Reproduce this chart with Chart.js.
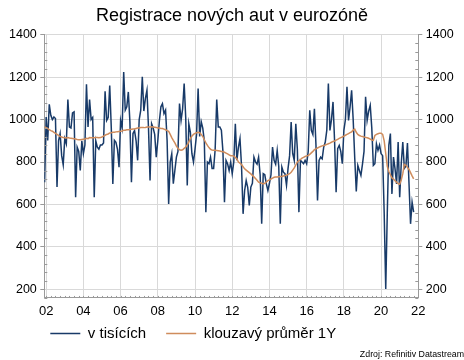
<!DOCTYPE html>
<html>
<head>
<meta charset="utf-8">
<script src="https://cdn.jsdelivr.net/npm/chart.js@4.4.1/dist/chart.umd.min.js"></script>
<style>
  html, body { margin: 0; padding: 0; background: #ffffff; }
  #wrap { width: 464px; height: 360px; }
</style>
</head>
<body>
<div id="wrap"><canvas id="c" width="464" height="360"></canvas></div>
<script>
// ---- data ----
const titleText = 'Registrace nových aut v eurozóně';
const sourceText = 'Zdroj: Refinitiv Datastream';
const seriesNames = ['v tisících', 'klouzavý průměr 1Y'];
const firstYear = 2001, firstMonth = 12;          // first observation: Dec 2001
const tickYears = [2002, 2004, 2006, 2008, 2010, 2012, 2014, 2016, 2018, 2020, 2022];
const tickLabels = ['02', '04', '06', '08', '10', '12', '14', '16', '18', '20', '22'];
const yTicks = [200, 400, 600, 800, 1000, 1200, 1400];

// monthly registrations (thousands), Dec 2001 .. Oct 2021
const registrations = [
  705,
  1012, 902, 1072, 1020, 1000, 1012, 1005, 682, 900, 934, 830, 787,
  910, 886, 1094, 965, 960, 1031, 1036, 634, 870, 850, 760, 900,
  839, 880, 1166, 965, 1094, 1000, 1010, 634, 900, 870, 860, 880,
  880, 890, 1133, 996, 1010, 1160, 960, 697, 902, 893, 860, 776,
  996, 960, 1224, 1044, 1060, 1130, 990, 705, 934, 948, 900, 808,
  1000, 1044, 1201, 1040, 1100, 1138, 960, 713, 980, 960, 930, 823,
  900, 992, 1060, 1075, 1028, 1044, 900, 603, 800, 839, 698, 760,
  823, 850, 1075, 996, 1050, 1170, 1010, 690, 980, 940, 839, 800,
  860, 930, 1146, 920, 990, 960, 900, 564, 800, 792, 823, 770,
  770, 860, 1094, 965, 965, 950, 850, 611, 808, 792, 760, 800,
  745, 800, 980, 808, 870, 910, 780, 556, 666, 713, 680, 595,
  682, 700, 823, 801, 790, 823, 740, 509, 745, 740, 697, 666,
  700, 740, 870, 808, 790, 855, 780, 509, 776, 752, 745, 690,
  770, 830, 988, 840, 808, 980, 860, 564, 808, 800, 792, 808,
  792, 850, 1044, 949, 930, 1051, 880, 619, 808, 823, 815, 870,
  894, 950, 1170, 949, 1000, 1083, 900, 658, 863, 878, 850, 792,
  949, 1000, 1154, 996, 1060, 1138, 1000, 820, 661, 784, 760, 737,
  790, 850, 1107, 996, 1040, 1067, 960, 784, 792, 886, 855, 880,
  839, 830, 560, 202, 560, 880, 934, 650, 823, 768, 697, 894,
  634, 792, 894, 770, 780, 889, 700, 509, 611, 564
];

// 12-month moving average, Dec 2001 .. Oct 2021
const movingAvg = [
  965,
  962, 958, 952, 948, 945, 940, 935, 930, 925, 920, 918, 915,
  914, 913, 915, 913, 912, 911, 910, 908, 906, 905, 905, 906,
  907, 908, 912, 910, 915, 914, 914, 914, 915, 915, 914, 915,
  918, 922, 926, 930, 932, 937, 938, 940, 940, 942, 943, 944,
  945, 946, 950, 950, 952, 952, 953, 954, 955, 956, 958, 960,
  960, 962, 962, 962, 963, 965, 965, 965, 966, 965, 964, 963,
  960, 960, 958, 958, 955, 952, 948, 945, 930, 915, 902, 890,
  875, 865, 858, 856, 858, 864, 870, 880, 895, 910, 922, 930,
  935, 938, 940, 938, 930, 920, 905, 890, 878, 868, 860, 856,
  855, 855, 854, 853, 852, 850, 848, 846, 842, 838, 834, 830,
  830, 828, 822, 815, 800, 795, 788, 778, 768, 762, 756, 750,
  744, 737, 730, 722, 714, 705, 702, 700, 697, 700, 706, 712,
  716, 720, 724, 728, 729, 730, 731, 732, 732, 734, 736, 738,
  742, 745, 752, 762, 772, 786, 800, 806, 812, 818, 822, 826,
  829, 831, 836, 843, 850, 858, 862, 866, 870, 873, 876, 878,
  880, 883, 886, 889, 893, 897, 899, 903, 907, 911, 915, 918,
  922, 926, 930, 934, 938, 942, 950, 955, 940, 930, 925, 922,
  920, 918, 916, 914, 912, 908, 904, 902, 925, 930, 933, 936,
  936, 930, 900, 840, 780, 755, 740, 725, 720, 712, 705, 698,
  695, 715, 745, 789, 785, 775, 765, 750, 735, 721
];

// ---- build points (x = decimal year of each month) ----
function monthX(i) {
  const m = firstMonth - 1 + i;
  return firstYear + m / 12;
}
const regPts = registrations.map((v, i) => ({ x: monthX(i), y: v }));
const maPts = movingAvg.map((v, i) => ({ x: monthX(i), y: v }));

const FONT = "'Liberation Sans', Arial, sans-serif";
const AXIS = '#9a9a9a';
const GRID = '#d9d9d9';
const LEGEND_PAD = 20;       // horizontal gap between legend items
const LEGEND_ROW_PAD = 8;    // vertical padding used for legend box height

const minorTicks = {
  id: 'minorTicks',
  afterDraw(chart) {
    const ctx = chart.ctx, a = chart.chartArea;
    const y = chart.scales.y, x = chart.scales.x;
    ctx.save();
    ctx.strokeStyle = AXIS;
    ctx.lineWidth = 1;
    ctx.beginPath();
    for (let v = y.min; v <= y.max + 0.01; v += 40) {
      if (v % 200 === 0) continue;
      const py = Math.round(y.getPixelForValue(v)) + 0.5;
      ctx.moveTo(a.left, py); ctx.lineTo(a.left + 3, py);
      ctx.moveTo(a.right - 3, py); ctx.lineTo(a.right, py);
    }
    for (let q = 2002; q <= 2022.001; q += 0.25) {
      const px = Math.round(x.getPixelForValue(q)) + 0.5;
      ctx.moveTo(px, a.bottom); ctx.lineTo(px, a.bottom - 2);
    }
    ctx.stroke();
    ctx.restore();
  }
};

// legend: compact box height, items placed below the left of the plot
const legendTweak = {
  id: 'legendTweak',
  beforeLayout(chart) {
    const lg = chart.legend;
    if (!lg || lg._tweaked) return;
    const origFit = lg.fit;
    lg.fit = function () {
      origFit.call(this);
      this.height = this.options.labels.font.size + LEGEND_ROW_PAD + 10;
    };
    lg._tweaked = true;
  },
  afterLayout(chart) {
    const lg = chart.legend;
    if (!lg) return;
    const dx = (chart.chartArea.left + 6 - LEGEND_PAD) - lg.left;
    lg.left += dx; lg.right += dx;
    const dy = LEGEND_PAD - LEGEND_ROW_PAD;
    lg.top -= dy;
    lg.bottom += 6;
    lg.height = lg.bottom - lg.top;
  }
};

new Chart(document.getElementById('c'), {
  type: 'line',
  data: {
    datasets: [
      {
        label: seriesNames[0],
        data: regPts,
        borderColor: '#183a68',
        backgroundColor: '#183a68',
        borderWidth: 1.5,
        pointRadius: 0,
        tension: 0,
        order: 1
      },
      {
        label: seriesNames[1],
        data: maPts,
        borderColor: '#cf8c5c',
        backgroundColor: '#cf8c5c',
        borderWidth: 1.5,
        pointRadius: 0,
        tension: 0,
        order: 0
      }
    ]
  },
  options: {
    responsive: false,
    animation: false,
    events: [],
    layout: { padding: 0 },
    plugins: {
      title: {
        display: true,
        text: titleText,
        color: '#000',
        font: { family: FONT, size: 18, weight: 'normal' },
        padding: { top: 5, bottom: 8 }
      },
      subtitle: {
        display: true,
        position: 'bottom',
        align: 'end',
        text: sourceText,
        color: '#000',
        font: { family: "'Liberation Sans Narrow', 'Liberation Sans', Arial, sans-serif", size: 8.8, weight: 'normal' },
        padding: { top: -1.5, bottom: 0 }
      },
      legend: {
        display: true,
        position: 'bottom',
        align: 'start',
        labels: {
          color: '#000',
          font: { family: FONT, size: 15 },
          usePointStyle: true,
          pointStyle: 'line',
          pointStyleWidth: 30,
          padding: LEGEND_PAD,
          sort: (a, b) => a.datasetIndex - b.datasetIndex
        }
      },
      tooltip: { enabled: false }
    },
    scales: {
      x: {
        type: 'linear',
        min: 2001.9,
        max: 2022,
        afterBuildTicks: s => { s.ticks = tickYears.map(v => ({ value: v })); },
        afterFit: s => { s.height = 20; },
        ticks: {
          autoSkip: false,
          maxRotation: 0,
          padding: 6,
          color: '#000',
          font: { family: FONT, size: 13 },
          callback: (v, i) => tickLabels[i]
        },
        grid: { color: GRID, drawTicks: false },
        border: { color: AXIS, width: 1 }
      },
      y: {
        position: 'left',
        min: 160,
        max: 1400,
        afterBuildTicks: s => { s.ticks = yTicks.map(v => ({ value: v })); },
        afterFit: s => { s.width = 44.3; },
        ticks: {
          padding: 3.5,
          color: '#000',
          font: { family: FONT, size: 12.5 },
          callback: v => String(v)
        },
        grid: { color: GRID, tickLength: 4, tickColor: AXIS },
        border: { color: AXIS, width: 1 }
      },
      y2: {
        position: 'right',
        min: 160,
        max: 1400,
        afterBuildTicks: s => { s.ticks = yTicks.map(v => ({ value: v })); },
        afterFit: s => { s.width = 45.7; },
        ticks: {
          padding: 3.5,
          color: '#000',
          font: { family: FONT, size: 12.5 },
          callback: v => String(v)
        },
        grid: { drawOnChartArea: false, tickLength: 4, tickColor: AXIS },
        border: { color: AXIS, width: 1 }
      }
    }
  },
  plugins: [minorTicks, legendTweak]
});
</script>
</body>
</html>
